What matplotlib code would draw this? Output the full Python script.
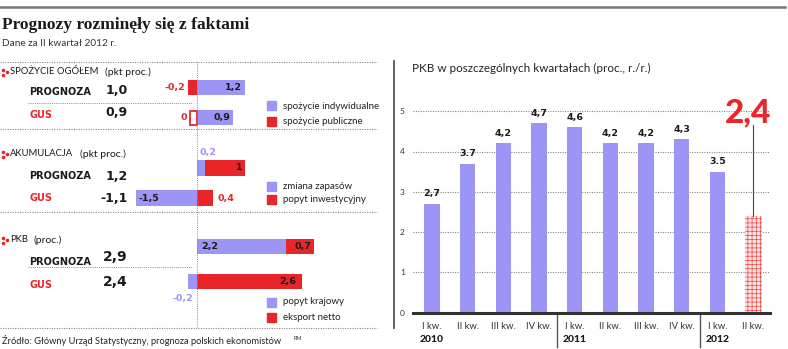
import matplotlib
matplotlib.use("Agg")
import matplotlib.pyplot as plt
from matplotlib.lines import Line2D
from matplotlib.patches import Rectangle

plt.rcParams['font.family'] = ['Lato', 'DejaVu Sans']
plt.rcParams['hatch.linewidth'] = 0.5

W, H = 788, 349
BLUE = '#9c95f5'
RED = '#e8262a'
DARK = '#1a1a1a'
GRAY = '#8a8a8a'

# --- data: left panel (II kwartal 2012) ---
rows = ['PROGNOZA', 'GUS']
spozycie_total = ['1,0', '0,9']
spozycie_indyw = [1.2, 0.9]
spozycie_publ = [-0.2, 0.0]
akum_total = ['1,2', '-1,1']
zmiana_zapasow = [0.2, -1.5]
popyt_inwest = [1.0, 0.4]
pkb_total = ['2,9', '2,4']
popyt_krajowy = [2.2, -0.2]
eksport_netto = [0.7, 2.6]

# --- data: right panel (PKB r/r) ---
quarters = ['I kw.', 'II kw.', 'III kw.', 'IV kw.', 'I kw.', 'II kw.', 'III kw.', 'IV kw.', 'I kw.', 'II kw.']
years = ['2010', '2011', '2012']
year_start = [0, 4, 8]
pkb_q = [2.7, 3.7, 4.2, 4.7, 4.6, 4.2, 4.2, 4.3, 3.5, 2.4]
pkb_q_labels = ['2,7', '3.7', '4,2', '4,7', '4,6', '4,2', '4,2', '4,3', '3.5', '']

BOLD = ['DejaVu Sans']


def fx(px):
    return px / W


def fy(py):
    return 1 - py / H


def ftext(x, y, s, **kw):
    kw.setdefault('va', 'center')
    kw.setdefault('color', DARK)
    fig.text(fx(x), fy(y), s, **kw)


def fline(x0, x1, y0, y1, **kw):
    fig.add_artist(Line2D([fx(x0), fx(x1)], [fy(y0), fy(y1)], transform=fig.transFigure, **kw))


fig = plt.figure(figsize=(W / 100, H / 100), dpi=100)

# header
fline(0, 785, 7, 7, color='#777777', lw=1.8)
ftext(2, 25, 'Prognozy rozminęły się z faktami', family='Liberation Serif', weight='bold', fontsize=12.5)
ftext(2, 44, 'Dane za II kwartał 2012 r.', fontsize=7.2, color='#333333')

# separators left
for yy in [62, 129, 212, 328]:
    fline(0, 377, yy, yy, color=GRAY, lw=0.8, ls=(0, (1, 1.2)))
fline(394, 394, 61, 328, color='#555555', lw=1.3)

# ---------- left panel ----------
PXU = 40.5
ZERO = 196.5
ax1 = fig.add_axes([0, fy(328), fx(377), (328 - 62) / H])
ax1.set_xlim(-ZERO / PXU, (377 - ZERO) / PXU)
ax1.set_ylim(328, 62)
ax1.axis('off')
ax1.axvline(0, color=GRAY, lw=0.7, ls=(0, (1, 1.2)))

sections = [
    dict(head='SPOŻYCIE OGÓŁEM', unit='(pkt proc.)', unit_x=105, head_y=72,
         ys=[87.5, 117.5], blue=spozycie_indyw, red=spozycie_publ, tot=spozycie_total,
         tot_fs=9, row_y=[92, 115], tot_y=[91, 113], sep=103,
         leg=['spożycie indywidualne', 'spożycie publiczne'], leg_y=[106, 121]),
    dict(head='AKUMULACJA', unit='(pkt proc.)', unit_x=80, head_y=154,
         ys=[168, 198], blue=zmiana_zapasow, red=popyt_inwest, tot=akum_total,
         tot_fs=9, row_y=[176, 198], tot_y=[176, 198], sep=None,
         leg=['zmiana zapasów', 'popyt inwestycyjny'], leg_y=[186, 199.5]),
    dict(head='PKB', unit='(proc.)', unit_x=33, head_y=240,
         ys=[246.5, 281.5], blue=popyt_krajowy, red=eksport_netto, tot=pkb_total,
         tot_fs=10, row_y=[262, 285], tot_y=[257, 282], sep=267,
         leg=['popyt krajowy', 'eksport netto'], leg_y=[302, 317.5]),
]

BH = 15.5
for s in sections:
    # heading with red dotted icon
    for dx, dy in [(3, -2.5), (3, 2.5), (7, 0)]:
        fig.add_artist(Line2D([fx(dx)], [fy(s['head_y'] + dy)], transform=fig.transFigure,
                              marker='o', ms=1.6, color=RED, lw=0))
    ftext(10, s['head_y'], s['head'], fontsize=6.8)
    ftext(s['unit_x'], s['head_y'], s['unit'], fontsize=7.5)
    for i in range(2):
        ftext(29, s['row_y'][i], rows[i], fontsize=7, family=BOLD, weight='bold',
              color=DARK if i == 0 else RED)
        ftext(128, s['tot_y'][i], s['tot'][i], fontsize=s['tot_fs'], family=BOLD,
              weight='bold', ha='right')
    if s['sep']:
        fline(28, 193, s['sep'], s['sep'], color=GRAY, lw=0.7, ls=(0, (1, 1.2)))
    for i, y in enumerate(s['ys']):
        b, r = s['blue'][i], s['red'][i]
        ax1.barh(y, b, height=BH, color=BLUE)
        if r == 0:
            ax1.barh(y, -0.17, height=BH - 1.5, facecolor='white', edgecolor=RED, lw=1.3)
        else:
            left = b if (b > 0) == (r > 0) else 0
            ax1.barh(y, r, left=left, height=BH, color=RED)
    # legend swatches
    for c, lab, ly in zip([BLUE, RED], s['leg'], s['leg_y']):
        fig.add_artist(Rectangle((fx(267), fy(ly + 4.5)), fx(9), 9 / H, color=c,
                                 transform=fig.transFigure))
        ftext(283, ly, lab, fontsize=7, color='#222222')

# value labels inside / next to bars
lb = dict(fontsize=6.8, family=BOLD, weight='bold', va='center')
d = 3 / PXU
y0, y1 = sections[0]['ys']
ax1.text(spozycie_publ[0] - d, y0, '-0,2', color=RED, ha='right', **lb)
ax1.text(spozycie_indyw[0] - d, y0, '1,2', color=DARK, ha='right', **lb)
ax1.text(-0.17 - d, y1, '0', color=RED, ha='right', **lb)
ax1.text(spozycie_indyw[1] - d, y1, '0,9', color=DARK, ha='right', **lb)
y0, y1 = sections[1]['ys']
ax1.text(d, y0 - 15, '0,2', color=BLUE, ha='left', **lb)
ax1.text(zmiana_zapasow[0] + popyt_inwest[0] - d, y0, '1', color=DARK, ha='right', **lb)
ax1.text(zmiana_zapasow[1] + d, y1, '-1,5', color=DARK, ha='left', **lb)
ax1.text(popyt_inwest[1] + 1.5 * d, y1, '0,4', color=RED, ha='left', **lb)
y0, y1 = sections[2]['ys']
ax1.text(1.5 * d, y0, '2,2', color=DARK, ha='left', **lb)
ax1.text(popyt_krajowy[0] + eksport_netto[0] - d, y0, '0,7', color=DARK, ha='right', **lb)
ax1.text(eksport_netto[1] - 2 * d, y1, '2,6', color=DARK, ha='right', **lb)
ax1.text(-d, y1 + 16.5, '-0,2', color=BLUE, ha='right', **lb)

ftext(2, 340, 'Źródło: Główny Urząd Statystyczny, prognoza polskich ekonomistów', fontsize=6.7, color='#222222')
ftext(294, 339, 'RM', fontsize=4, color='#333333')

# ---------- right panel ----------
Y0 = 312.7
PXY = 40.3
ax2 = fig.add_axes([fx(413), fy(Y0), fx(357), (Y0 - 80) / H])
ax2.set_xlim(-0.53, 9.47)
ax2.set_ylim(0, (Y0 - 80) / PXY)
ftext(412, 68, 'PKB w poszczególnych kwartałach (proc., r./r.)', fontsize=8.4, color='#222222')

x = list(range(len(pkb_q)))
ax2.bar(x[:-1], pkb_q[:-1], width=0.43, color=BLUE, zorder=3)
ax2.bar(x[-1], pkb_q[-1], width=0.47, facecolor='#fde3e3', edgecolor='#ea4a4a', hatch='++++',
        lw=0, zorder=3)
for xi, v, t in zip(x, pkb_q, pkb_q_labels):
    if t:
        ax2.annotate(t, (xi, v), xytext=(0, 4), textcoords='offset points', ha='center',
                     va='bottom', fontsize=6.8, family=BOLD, weight='bold', color=DARK)
ax2.plot([x[-1], x[-1]], [pkb_q[-1], 4.65], color='#444444', lw=0.8, zorder=4)
ax2.text(x[-1] - 0.15, 4.97, '2,4', color=RED, fontsize=24, weight='black', ha='center', va='center')

ax2.set_yticks(range(0, 6))
ax2.set_yticklabels([str(v) for v in range(0, 6)], fontsize=6, color='#333333')
ax2.yaxis.grid(True, color=GRAY, lw=0.8, ls=(0, (1, 1.2)), zorder=0)
ax2.set_xticks(x)
ax2.set_xticklabels(quarters, fontsize=6.8, color='#333333')
ax2.tick_params(axis='both', length=0)
ax2.tick_params(axis='x', pad=7)
ax2.tick_params(axis='y', pad=6)
for sp in ['top', 'right', 'left']:
    ax2.spines[sp].set_visible(False)
ax2.spines['bottom'].set_linewidth(2.2)
ax2.spines['bottom'].set_color('#333333')
ax2.spines['bottom'].set_zorder(5)
for xs in [3.5, 7.5]:
    ax2.axvline(xs, ymin=-0.148, ymax=0, color='#555555', lw=1, clip_on=False)
for yr, xs in zip(years, year_start):
    ax2.text(xs, -0.115, yr, transform=ax2.get_xaxis_transform(), ha='center', va='center',
             fontsize=7.5, weight='black', color=DARK)

fig.savefig('out.png', dpi=100)
